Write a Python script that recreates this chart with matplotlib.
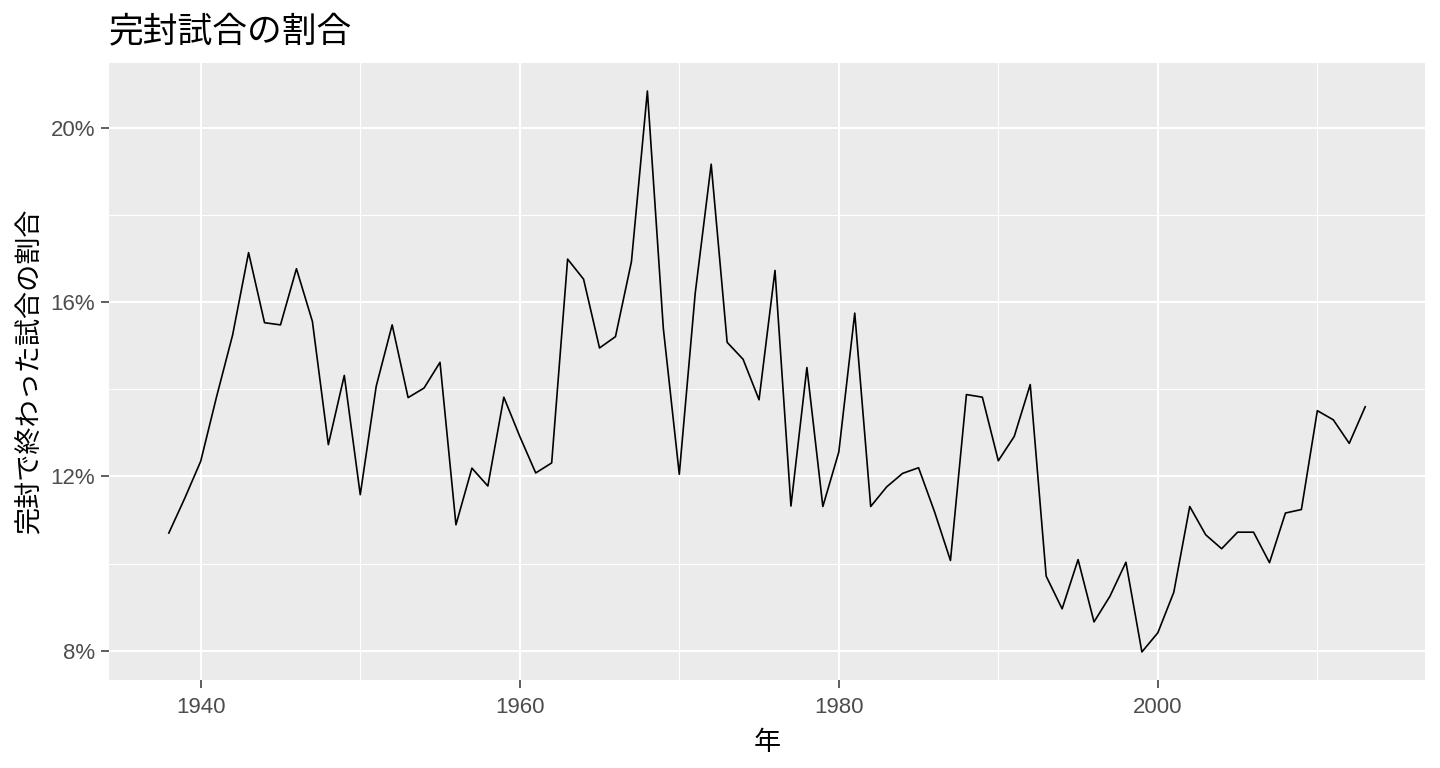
import matplotlib.pyplot as plt
from matplotlib.ticker import FuncFormatter, MultipleLocator

# Share of games that ended in a shutout, per season (percent)
years = list(range(1938, 2014))
shutout_pct = [
    10.70, 11.50, 12.35, 13.84, 15.25, 17.14, 15.53, 15.48, 16.77, 15.56,
    12.73, 14.32, 11.58, 14.07, 15.48, 13.81, 14.03, 14.62, 10.89, 12.19,
    11.78, 13.82, 12.92, 12.08, 12.31, 16.99, 16.53, 14.95, 15.21, 16.93,
    20.85, 15.40, 12.05, 16.21, 19.17, 15.08, 14.69, 13.76, 16.73, 11.32,
    14.50, 11.31, 12.56, 15.75, 11.31, 11.76, 12.07, 12.20, 11.19, 10.07,
    13.88, 13.82, 12.36, 12.92, 14.11, 9.71, 8.96, 10.09, 8.66, 9.25,
    10.03, 7.97, 8.41, 9.34, 11.31, 10.66, 10.34, 10.72, 10.72, 10.02,
    11.16, 11.24, 13.51, 13.30, 12.76, 13.60,
]

title = '完封試合の割合'
x_label = '年'
y_label = '完封で終わった試合の割合'

jp_font = ['Noto Sans CJK JP', 'DejaVu Sans']
num_font = ['Liberation Sans', 'DejaVu Sans']

fig = plt.figure(figsize=(14.4, 7.68), dpi=100)
ax = fig.add_axes([0.0757, 0.1146, 0.9139, 0.8034])

ax.plot(years, shutout_pct, color='black', linewidth=1.2, zorder=3)

# ggplot-like 5% expansion
x_span = max(years) - min(years)
ax.set_xlim(min(years) - 0.05 * x_span, max(years) + 0.05 * x_span)
y_span = max(shutout_pct) - min(shutout_pct)
ax.set_ylim(min(shutout_pct) - 0.05 * y_span, max(shutout_pct) + 0.05 * y_span)

ax.xaxis.set_major_locator(MultipleLocator(20))
ax.xaxis.set_minor_locator(MultipleLocator(10))
ax.yaxis.set_major_locator(MultipleLocator(4))
ax.yaxis.set_minor_locator(MultipleLocator(2))
ax.yaxis.set_major_formatter(FuncFormatter(lambda v, _: f'{v:.0f}%'))

ax.set_facecolor('#EBEBEB')
ax.grid(which='major', color='white', linewidth=1.5)
ax.grid(which='minor', color='white', linewidth=0.75)
ax.set_axisbelow(True)
for spine in ax.spines.values():
    spine.set_visible(False)

ax.tick_params(which='major', length=6, width=1.1, color='#333333',
               labelsize=16, labelcolor='#4D4D4D', pad=4)
ax.tick_params(axis='x', which='major', pad=6)
ax.tick_params(which='minor', length=0)
for lab in ax.get_xticklabels() + ax.get_yticklabels():
    lab.set_family(num_font)

ax.set_xlabel(x_label, family=jp_font, fontsize=19.5, labelpad=8)
ax.set_ylabel(y_label, family=jp_font, fontsize=19.5, labelpad=5)
fig.text(0.0757, 0.958, title, family=jp_font, fontsize=25, va='center', ha='left')

fig.savefig('out.png', dpi=100)
